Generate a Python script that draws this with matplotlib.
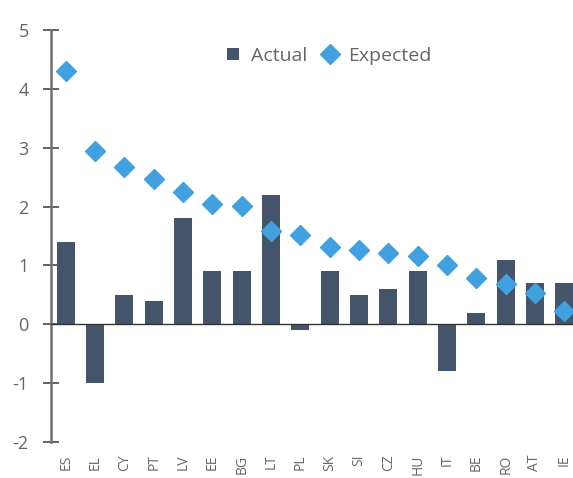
import matplotlib.pyplot as plt
import numpy as np

# country codes and values
countries = ['ES', 'EL', 'CY', 'PT', 'LV', 'EE', 'BG', 'LT', 'PL',
             'SK', 'SI', 'CZ', 'HU', 'IT', 'BE', 'RO', 'AT', 'IE']
actual = [1.4, -1.0, 0.5, 0.4, 1.8, 0.9, 0.9, 2.2, -0.1,
          0.9, 0.5, 0.6, 0.9, -0.8, 0.2, 1.1, 0.7, 0.7]
expected = [4.3, 2.94, 2.68, 2.46, 2.24, 2.04, 2.01, 1.58, 1.51,
            1.31, 1.26, 1.21, 1.16, 1.0, 0.78, 0.69, 0.53, 0.22]

text_col = '#666666'
bar_col = '#44546A'
dot_col = '#41A0E0'

plt.rcParams['font.family'] = ['Open Sans', 'DejaVu Sans']
plt.rcParams['axes.unicode_minus'] = False

fig = plt.figure(figsize=(5.73, 4.78), dpi=100)
# the original picture is cropped on the right, so the axes run past the edge
ax = fig.add_axes([51 / 573, 36 / 478, 528 / 573, 412 / 478])

x = np.arange(len(countries))
bars = ax.bar(x, actual, width=0.62, color=bar_col, label='Actual', zorder=2)
dots, = ax.plot(x, expected, 'D', markersize=10, color=dot_col,
                linestyle='none', label='Expected', zorder=3)

ax.axhline(0, color='#333333', linewidth=1.0, zorder=4)

ax.set_xlim(-0.5, len(countries) - 0.5)
ax.set_ylim(-2, 5)
ax.set_yticks(range(-2, 6))

ax.set_xticks(x)
ax.set_xticklabels(countries, rotation=90, fontsize=10, color=text_col)
ax.tick_params(axis='x', length=0, pad=9)
ax.tick_params(axis='y', direction='inout', length=12, width=1.3,
               color='#555555', labelsize=13, labelcolor=text_col, pad=10)

for side in ['top', 'right', 'bottom']:
    ax.spines[side].set_visible(False)
ax.spines['left'].set_color('#707070')
ax.spines['left'].set_linewidth(1.8)

leg = ax.legend(handles=[bars, dots], loc='center', bbox_to_anchor=(0.527, 0.937),
                ncol=2, frameon=False, fontsize=14, handlelength=0.6,
                handleheight=0.6, handletextpad=0.6, columnspacing=0.9)
for t in leg.get_texts():
    t.set_color(text_col)

fig.savefig('out.png', dpi=100)
